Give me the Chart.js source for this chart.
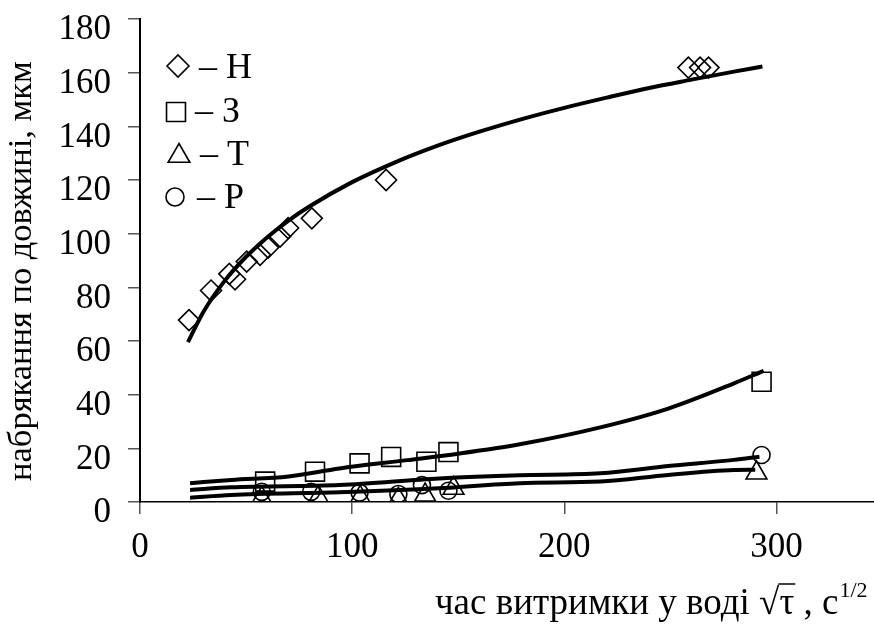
<!DOCTYPE html>
<html lang="uk">
<head>
<meta charset="UTF-8">
<title>Набрякання по довжині</title>
<script src="https://cdn.jsdelivr.net/npm/chart.js@4.4.0/dist/chart.umd.min.js"></script>
<style>
    html, body { margin: 0; padding: 0; background: #fff; overflow: hidden; }
    #wrap { position: relative; width: 874px; height: 629px; }
    #chart { display: block; }
</style>
</head>
<body>
<div id="wrap"><canvas id="chart"></canvas></div>
<script>
// measured points, x = sqrt(t), y = swelling, um
const hX = [23.1, 33.5, 42.1, 44.8, 50.3, 56.6, 60.4, 66.0, 69.8, 81.0, 116.0, 258.5, 264.0, 268.0];
const hY = [67.8, 78.8, 85.0, 83.0, 89.6, 92.1, 94.8, 98.9, 102.1, 105.7, 120.0, 161.9, 161.9, 161.9];
const zX = [59.0, 82.5, 103.5, 118.4, 135.0, 145.4, 293.0];
const zY = [7.6, 11.3, 14.4, 16.8, 15.0, 18.6, 44.8];
const tX = [57.4, 84.1, 103.8, 121.8, 134.4, 147.8, 290.6];
const tY = [1.4, 1.7, 1.7, 1.0, 2.6, 5.1, 10.8];
const pX = [57.4, 80.7, 103.5, 121.8, 132.9, 145.4, 293.0];
const pY = [3.8, 3.8, 3.5, 3.0, 6.3, 4.2, 17.5];

// fitted curves
const hfX = [22.6, 30, 40, 50, 60, 70, 80, 100, 120, 140, 160, 180, 200, 220, 240, 260, 280, 293.4];
const hfY = [59.6, 71.0, 82.5, 91.4, 98.7, 104.9, 110.2, 119.2, 126.5, 132.7, 138.0, 142.7, 146.9, 150.7, 154.3, 157.4, 160.4, 162.3];
const zfX = [23.6, 43, 70, 94, 126, 150, 179, 217, 249, 280, 294];
const zfY = [7.0, 8.2, 9.5, 12.5, 15.6, 18.0, 21.5, 27.8, 34.8, 44.2, 48.9];
const pfX = [23.6, 43, 94, 141, 179, 217, 249, 280, 292];
const pfY = [4.5, 5.5, 6.3, 8.8, 10.0, 10.7, 13.4, 15.7, 16.9];
const tfX = [23.6, 43, 94, 141, 179, 217, 249, 280, 290];
const tfY = [1.6, 2.6, 3.6, 5.1, 7.0, 7.6, 10.1, 11.9, 12.0];

const xTicks = [0, 100, 200, 300];
const legendNames = ['Н', 'З', 'Т', 'Р'];

const FONT = 'Liberation Serif, Times New Roman, serif';
const toPts = (xs, ys) => xs.map((x, i) => ({ x: x, y: ys[i] }));

function markers(xs, ys, style, r) {
    return {
        type: 'scatter', data: toPts(xs, ys), showLine: false,
        pointStyle: style, pointRadius: r, pointHoverRadius: r,
        pointBorderColor: '#000', pointBackgroundColor: 'rgba(0,0,0,0)', pointBorderWidth: 1.6
    };
}
function curve(xs, ys) {
    return {
        type: 'line', data: toPts(xs, ys), showLine: true,
        borderColor: '#000', borderWidth: 4, pointRadius: 0,
        cubicInterpolationMode: 'monotone', fill: false
    };
}

function shape(ctx, style, x, y, r) {
    ctx.beginPath();
    if (style === 'rectRot') {
        ctx.moveTo(x - r, y); ctx.lineTo(x, y - r); ctx.lineTo(x + r, y); ctx.lineTo(x, y + r);
        ctx.closePath();
    } else if (style === 'rect') {
        const s = Math.SQRT1_2 * r;
        ctx.rect(x - s, y - s, 2 * s, 2 * s);
    } else if (style === 'triangle') {
        ctx.moveTo(x, y - r);
        ctx.lineTo(x + r * 0.866, y + r / 2);
        ctx.lineTo(x - r * 0.866, y + r / 2);
        ctx.closePath();
    } else {
        ctx.arc(x, y, r, 0, Math.PI * 2);
    }
    ctx.stroke();
}

const decor = {
    id: 'decor',
    afterDraw(chart) {
        const ctx = chart.ctx;
        ctx.save();
        ctx.fillStyle = '#000';
        ctx.strokeStyle = '#000';

        // legend inside plot
        const leg = [
            { s: 'rectRot', r: 11, x: 178, y: 66, tx: 199, ty: 78 },
            { s: 'rect', r: 13.4, x: 176, y: 112, tx: 195, ty: 122 },
            { s: 'triangle', r: 12.5, x: 179, y: 156, tx: 200, ty: 165 },
            { s: 'circle', r: 9, x: 175, y: 197, tx: 197, ty: 208 }
        ];
        ctx.font = '36px ' + FONT;
        ctx.textBaseline = 'alphabetic';
        ctx.textAlign = 'left';
        leg.forEach((l, i) => {
            ctx.lineWidth = 1.6;
            shape(ctx, l.s, l.x, l.y, l.r);
            ctx.fillText('\u2013 ' + legendNames[i], l.tx, l.ty);
        });

        // y title
        ctx.save();
        ctx.translate(22, 271);
        ctx.rotate(-Math.PI / 2);
        ctx.font = '34.5px ' + FONT;
        ctx.textAlign = 'center';
        ctx.textBaseline = 'middle';
        ctx.fillText('набрякання по довжині, мкм', 0, 0);
        ctx.restore();

        // x title with radical and superscript
        ctx.font = '37px ' + FONT;
        const base = 614;
        let x = 435;
        const part1 = 'час витримки у воді ';
        ctx.fillText(part1, x, base);
        x += ctx.measureText(part1).width;
        ctx.fillText('\u221A', x, base);
        const rw = ctx.measureText('\u221A').width;
        x += rw;
        ctx.fillText('\u03C4', x, base);
        const tw = ctx.measureText('\u03C4').width;
        ctx.lineWidth = 1.5;
        ctx.beginPath();
        ctx.moveTo(x - 1, base - 30);
        ctx.lineTo(x + tw + 1, base - 30);
        ctx.stroke();
        x += tw;
        ctx.fillText(' , c', x, base);
        x += ctx.measureText(' , c').width;
        ctx.font = '22px ' + FONT;
        ctx.fillText('1/2', x + 1, base - 17);
        ctx.restore();
    }
};

new Chart(document.getElementById('chart'), {
    type: 'scatter',
    data: {
        datasets: [
            curve(hfX, hfY), curve(zfX, zfY), curve(pfX, pfY), curve(tfX, tfY),
            markers(hX, hY, 'rectRot', 10.5),
            markers(zX, zY, 'rect', 13.4),
            markers(tX, tY, 'triangle', 12),
            markers(pX, pY, 'circle', 8.5)
        ]
    },
    options: {
        responsive: true,
        maintainAspectRatio: false,
        animation: false,
        events: [],
        layout: { autoPadding: false, padding: { top: 19, left: 0, right: 0, bottom: 0 } },
        plugins: { legend: { display: false }, tooltip: { enabled: false } },
        scales: {
            x: {
                type: 'linear', min: 0, max: 346,
                afterBuildTicks: s => { s.ticks = xTicks.map(v => ({ value: v })); },
                afterFit: s => { s.height = 127; s.paddingLeft = 0; s.paddingRight = 0; },
                grid: { drawOnChartArea: false, drawTicks: true, tickLength: 12, color: '#555', lineWidth: 1.5 },
                border: { display: true, color: '#000', width: 1.5 },
                ticks: { color: '#000', padding: 16, maxRotation: 0, font: { family: FONT, size: 35, lineHeight: 1 } }
            },
            y: {
                type: 'linear', min: 0, max: 180,
                ticks: { stepSize: 20, color: '#000', padding: 17, labelOffset: 11, font: { family: FONT, size: 35, lineHeight: 1 } },
                afterFit: s => { s.width = 140; s.paddingTop = 0; s.paddingBottom = 0; },
                grid: { drawOnChartArea: false, drawTicks: true, tickLength: 12, color: '#555', lineWidth: 1.5 },
                border: { display: true, color: '#000', width: 2 }
            }
        }
    },
    plugins: [decor]
});
</script>
</body>
</html>
